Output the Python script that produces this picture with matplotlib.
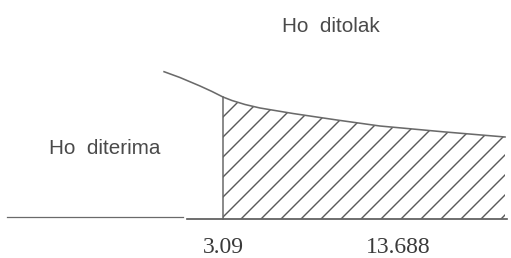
import numpy as np
import matplotlib
matplotlib.use("Agg")
import matplotlib.pyplot as plt

# ---- data (schematic F-distribution tail, x in F units) ----
curve_x = [-0.25, 0.65, 1.79, 2.47, 3.09, 3.60, 4.34, 5.19, 7.06, 9.55, 11.99, 15.51, 19.08]
curve_y = [1.468, 1.410, 1.325, 1.270, 1.215, 1.180, 1.140, 1.105, 1.050, 0.985, 0.925, 0.868, 0.815]
critical_value = 3.09
f_value = 13.688
accept_label = "Ho  diterima"
reject_label = "Ho  ditolak"
axis_left = [-9.15, 0.82]
axis_right = [1.05, 19.19]

DPI = 120
plt.rcParams["hatch.linewidth"] = 0.85
fig = plt.figure(figsize=(511 / DPI, 258 / DPI), dpi=DPI)
ax = fig.add_axes([0, 0, 1, 1])
ax.set_xlim(-9.55, 19.42)
ax.set_ylim(-0.395, 2.185)
ax.axis("off")

cx = np.array(curve_x)
cy = np.array(curve_y)

# curve
ax.plot(cx, cy, color="#6a6a6a", lw=0.95, solid_joinstyle="round")

# baseline segments
ax.plot(axis_left, [0.015, 0.015], color="#6a6a6a", lw=0.75)
ax.plot(axis_right, [0, 0], color="#555555", lw=1.0)

# critical value vertical line
top = np.interp(critical_value, cx, cy)
ax.plot([critical_value, critical_value], [0, top], color="#666666", lw=0.9)

# hatched rejection region
mask = cx >= critical_value
ax.fill_between(cx[mask], 0, cy[mask], facecolor="none", edgecolor="#5a5a5a",
                hatch="//", linewidth=0)

# labels
sans = ["Liberation Sans", "DejaVu Sans"]
serif = ["Liberation Serif", "DejaVu Serif"]
ax.text(9.21, 1.925, reject_label, family=sans, fontsize=12.4, color="#4a4a4a",
        ha="center", va="center")
ax.text(-3.6, 0.705, accept_label, family=sans, fontsize=12.4, color="#4a4a4a",
        ha="center", va="center")
ax.text(critical_value, -0.29, f"{critical_value:.2f}", family=serif, fontsize=14.2,
        color="#3a3a3a", ha="center", va="center")
ax.text(f_value - 0.65, -0.29, f"{f_value:.3f}", family=serif, fontsize=14.2,
        color="#3a3a3a", ha="center", va="center")

fig.savefig("out.png", dpi=DPI, facecolor="white")
